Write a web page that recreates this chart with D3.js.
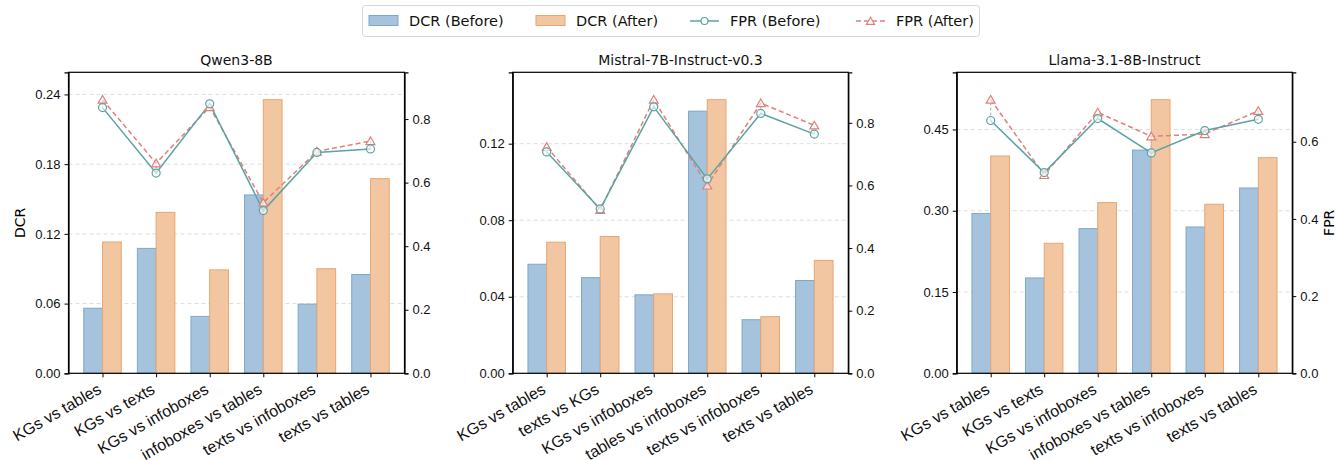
<!DOCTYPE html>
<html>
<head>
<meta charset="utf-8">
<script src="https://cdn.jsdelivr.net/npm/d3@7"></script>
<style>
  body { margin: 0; background: #fff; }
  svg { font-family: "DejaVu Sans", sans-serif; }
  .tick text { font-size: 13px; fill: #111; }
  .domain { stroke: #000; stroke-width: 1.2; }
</style>
</head>
<body>
<div id="chart"></div>
<script>
// Data
const models = ['Qwen3-8B', 'Mistral-7B-Instruct-v0.3', 'Llama-3.1-8B-Instruct'];

const categories = [
  ['KGs vs tables', 'KGs vs texts', 'KGs vs infoboxes', 'infoboxes vs tables', 'texts vs infoboxes', 'texts vs tables'],
  ['KGs vs tables', 'texts vs KGs', 'KGs vs infoboxes', 'tables vs infoboxes', 'texts vs infoboxes', 'texts vs tables'],
  ['KGs vs tables', 'KGs vs texts', 'KGs vs infoboxes', 'infoboxes vs tables', 'texts vs infoboxes', 'texts vs tables']
];

const dcrBefore = [
  [0.056, 0.1075, 0.049, 0.1535, 0.0595, 0.085],
  [0.057, 0.050, 0.041, 0.137, 0.028, 0.0485],
  [0.295, 0.176, 0.267, 0.412, 0.270, 0.342]
];
const dcrAfter = [
  [0.113, 0.1385, 0.089, 0.2355, 0.090, 0.1675],
  [0.0685, 0.0715, 0.0415, 0.143, 0.0296, 0.059],
  [0.401, 0.240, 0.315, 0.505, 0.312, 0.398]
];
const fprBefore = [
  [0.836, 0.630, 0.848, 0.512, 0.695, 0.706],
  [0.707, 0.525, 0.851, 0.621, 0.830, 0.764],
  [0.655, 0.520, 0.660, 0.571, 0.629, 0.658]
];
const fprAfter = [
  [0.861, 0.661, 0.838, 0.537, 0.698, 0.731],
  [0.723, 0.522, 0.874, 0.600, 0.863, 0.792],
  [0.709, 0.514, 0.676, 0.614, 0.620, 0.680]
];

const dcrTicks = [
  [0, 0.06, 0.12, 0.18, 0.24],
  [0, 0.04, 0.08, 0.12],
  [0, 0.15, 0.30, 0.45]
];
const fprTicks = [
  [0, 0.2, 0.4, 0.6, 0.8],
  [0, 0.2, 0.4, 0.6, 0.8],
  [0, 0.2, 0.4, 0.6]
];

// Configuration
const W = 1338, H = 460;
const panelX = [[68.5, 404.5], [512.7, 848.3], [956.7, 1292.3]];
const plotTop = 72.3, plotBottom = 373.3;
const barW = 0.35;
const colors = {
  blueFill: '#a5c3dc', blueEdge: '#7ea8ca',
  orangeFill: '#f2c6a0', orangeEdge: '#e8a572',
  teal: '#5ca3a3', red: '#e0807b'
};

const svg = d3.select('#chart').append('svg')
  .attr('width', W).attr('height', H);

models.forEach((model, p) => {
  const n = categories[p].length;
  const span = n - 1 + 2 * barW;
  const xScale = d3.scaleLinear()
    .domain([-barW - 0.05 * span, n - 1 + barW + 0.05 * span])
    .range(panelX[p]);
  const yLeft = d3.scaleLinear()
    .domain([0, d3.max(dcrAfter[p].concat(dcrBefore[p])) * 1.1])
    .range([plotBottom, plotTop]);
  const yRight = d3.scaleLinear()
    .domain([0, d3.max(fprAfter[p].concat(fprBefore[p])) * 1.1])
    .range([plotBottom, plotTop]);

  const g = svg.append('g');

  // grid
  g.selectAll('.grid')
    .data(dcrTicks[p].slice(1))
    .join('line')
    .attr('x1', panelX[p][0]).attr('x2', panelX[p][1])
    .attr('y1', d => yLeft(d)).attr('y2', d => yLeft(d))
    .attr('stroke', '#d9d9d9')
    .attr('stroke-width', 0.9)
    .attr('stroke-dasharray', '4,3');

  // bars
  g.selectAll('.bar-before')
    .data(dcrBefore[p])
    .join('rect')
    .attr('x', (d, i) => xScale(i - barW))
    .attr('width', xScale(barW) - xScale(0))
    .attr('y', d => yLeft(d))
    .attr('height', d => plotBottom - yLeft(d))
    .attr('fill', colors.blueFill)
    .attr('stroke', colors.blueEdge)
    .attr('stroke-width', 1);

  g.selectAll('.bar-after')
    .data(dcrAfter[p])
    .join('rect')
    .attr('x', (d, i) => xScale(i))
    .attr('width', xScale(barW) - xScale(0))
    .attr('y', d => yLeft(d))
    .attr('height', d => plotBottom - yLeft(d))
    .attr('fill', colors.orangeFill)
    .attr('stroke', colors.orangeEdge)
    .attr('stroke-width', 1);

  // connectors between before / after
  g.selectAll('.conn')
    .data(fprBefore[p])
    .join('line')
    .attr('x1', (d, i) => xScale(i)).attr('x2', (d, i) => xScale(i))
    .attr('y1', d => yRight(d))
    .attr('y2', (d, i) => yRight(fprAfter[p][i]))
    .attr('stroke', '#bbbbbb')
    .attr('stroke-width', 1.2)
    .attr('stroke-dasharray', '3,2');

  const line = d3.line().x((d, i) => xScale(i)).y(d => yRight(d));

  g.append('path')
    .attr('d', line(fprAfter[p]))
    .attr('fill', 'none')
    .attr('stroke', colors.red)
    .attr('stroke-width', 1.5)
    .attr('stroke-dasharray', '5,3');

  g.append('path')
    .attr('d', line(fprBefore[p]))
    .attr('fill', 'none')
    .attr('stroke', colors.teal)
    .attr('stroke-width', 1.5);

  const tri = d3.symbol().type(d3.symbolTriangle).size(34);
  g.selectAll('.tri')
    .data(fprAfter[p])
    .join('path')
    .attr('d', tri)
    .attr('transform', (d, i) => `translate(${xScale(i)},${yRight(d) + 1})`)
    .attr('fill', 'white')
    .attr('fill-opacity', 0.6)
    .attr('stroke', colors.red)
    .attr('stroke-width', 1.2);

  g.selectAll('.dot')
    .data(fprBefore[p])
    .join('circle')
    .attr('cx', (d, i) => xScale(i))
    .attr('cy', d => yRight(d))
    .attr('r', 4)
    .attr('fill', 'white')
    .attr('fill-opacity', 0.6)
    .attr('stroke', colors.teal)
    .attr('stroke-width', 1.2);

  // frame
  g.append('rect')
    .attr('x', panelX[p][0]).attr('y', plotTop)
    .attr('width', panelX[p][1] - panelX[p][0])
    .attr('height', plotBottom - plotTop)
    .attr('fill', 'none')
    .attr('stroke', '#000')
    .attr('stroke-width', 1.2);

  // axes
  g.append('g')
    .attr('transform', `translate(${panelX[p][0]},0)`)
    .call(d3.axisLeft(yLeft).tickValues(dcrTicks[p]).tickFormat(d3.format('.2f')).tickSize(4).tickPadding(4));

  g.append('g')
    .attr('transform', `translate(${panelX[p][1]},0)`)
    .call(d3.axisRight(yRight).tickValues(fprTicks[p]).tickFormat(d3.format('.1f')).tickSize(4).tickPadding(4));

  const xAxis = g.append('g')
    .attr('transform', `translate(0,${plotBottom})`)
    .call(d3.axisBottom(xScale).tickValues(d3.range(n)).tickFormat(i => categories[p][i]).tickSize(4));
  xAxis.select('.domain').remove();
  xAxis.selectAll('.tick text')
    .attr('text-anchor', 'end')
    .attr('x', 0).attr('y', 0).attr('dy', '0.8em')
    .attr('transform', 'translate(-7,8) rotate(-30)')
    .style('font-size', '16px');

  g.selectAll('.tick line').attr('stroke', '#000');

  // title
  g.append('text')
    .attr('x', (panelX[p][0] + panelX[p][1]) / 2)
    .attr('y', plotTop - 7)
    .attr('text-anchor', 'middle')
    .style('font-size', '14px')
    .attr('fill', '#111')
    .text(model);

  if (p === 0) {
    g.append('text')
      .attr('transform', `translate(${panelX[p][0] - 44},${(plotTop + plotBottom) / 2}) rotate(-90)`)
      .attr('text-anchor', 'middle')
      .style('font-size', '14px')
      .text('DCR');
  }
  if (p === 2) {
    g.append('text')
      .attr('transform', `translate(${panelX[p][1] + 37},${(plotTop + plotBottom) / 2}) rotate(-90)`)
      .attr('text-anchor', 'middle')
      .attr('dy', '0.35em')
      .style('font-size', '14px')
      .text('FPR');
  }
});

// Legend
const legendItems = [
  { label: 'DCR (Before)', type: 'bar', fill: colors.blueFill, stroke: colors.blueEdge, x: 369 },
  { label: 'DCR (After)', type: 'bar', fill: colors.orangeFill, stroke: colors.orangeEdge, x: 536 },
  { label: 'FPR (Before)', type: 'circle', stroke: colors.teal, x: 690 },
  { label: 'FPR (After)', type: 'tri', stroke: colors.red, x: 856 }
];
const legend = svg.append('g');
legend.append('rect')
  .attr('x', 362.5).attr('y', 5.5).attr('width', 617).attr('height', 31)
  .attr('rx', 3)
  .attr('fill', 'white')
  .attr('stroke', '#d6d6d6');

const li = legend.selectAll('.legend-item')
  .data(legendItems)
  .join('g')
  .attr('transform', d => `translate(${d.x},21)`);

li.filter(d => d.type === 'bar').append('rect')
  .attr('x', 0).attr('y', -5.5).attr('width', 29).attr('height', 10)
  .attr('fill', d => d.fill).attr('stroke', d => d.stroke);

li.filter(d => d.type !== 'bar').append('line')
  .attr('x1', 0).attr('x2', 29).attr('y1', 0).attr('y2', 0)
  .attr('stroke', d => d.stroke).attr('stroke-width', 1.5)
  .attr('stroke-dasharray', d => d.type === 'tri' ? '5,3' : null);

li.filter(d => d.type === 'circle').append('circle')
  .attr('cx', 14.5).attr('cy', 0).attr('r', 3.5)
  .attr('fill', 'white').attr('stroke', d => d.stroke).attr('stroke-width', 1.2);

li.filter(d => d.type === 'tri').append('path')
  .attr('d', d3.symbol().type(d3.symbolTriangle).size(30))
  .attr('transform', 'translate(14.5,1)')
  .attr('fill', 'white').attr('stroke', d => d.stroke).attr('stroke-width', 1.2);

li.append('text')
  .attr('x', 40).attr('y', 0).attr('dy', '0.35em')
  .style('font-size', '14.5px')
  .attr('fill', '#111')
  .text(d => d.label);
</script>
</body>
</html>
